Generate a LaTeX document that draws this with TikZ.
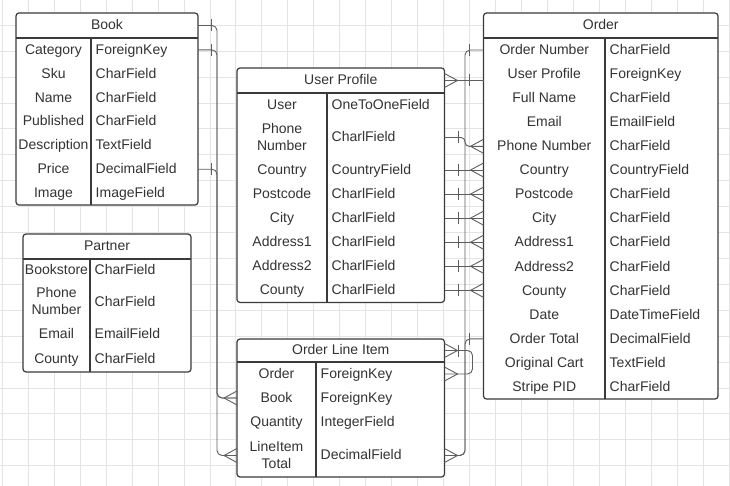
\documentclass[tikz,border=0pt]{standalone}
\usepackage{fontspec}
\setmainfont{Liberation Sans}
\usetikzlibrary{calc}
\definecolor{ink}{HTML}{333333}
\definecolor{edge}{HTML}{3A3A3A}
\definecolor{wire}{HTML}{5E5E5E}
\definecolor{gridc}{HTML}{E4E4E4}
\tikzset{
 tablebox/.style={draw=edge, line width=1.2pt, fill=white, rounded corners=3pt, inner sep=0pt, outer sep=0pt},
 rowbox/.style={inner sep=0pt, outer sep=0pt},
 keytext/.style={inner sep=0pt, align=center, text=ink, yshift=-1pt, font=\fontsize{14}{17}\selectfont},
 typetext/.style={inner sep=0pt, anchor=west, text=ink, yshift=-1pt, font=\fontsize{14}{17}\selectfont},
 sepline/.style={draw=edge, line width=1.8pt},
 divline/.style={draw=edge, line width=1.2pt},
 conn/.style={draw=wire, line width=0.9pt, rounded corners=5pt},
 wirebit/.style={draw=wire, line width=0.9pt},
 gridline/.style={draw=gridc, line width=0.8pt}
}
\newcommand\ERrow[5]{%
 \node[rowbox, minimum width={(\XR-\XL)*1pt}, minimum height={(#3-#2)*1pt}, anchor=north west] (#1) at (\XL,#2) {};
 \node[keytext] (#1-k) at ({(\XL+\XD)/2},{(#2+#3)/2}) {\strut#4\strut};
 \node[typetext] (#1-t) at ({\XD+4.5},{(#2+#3)/2}) {\strut#5};
}
\newcommand\ERtable[5]{%
 \node[tablebox, minimum width={(\XR-\XL)*1pt}, minimum height={(#4-#2)*1pt}, anchor=north west] (#1) at (\XL,#2) {};
 \node[rowbox, minimum width={(\XR-\XL)*1pt}, minimum height={(#3-#2)*1pt}, anchor=north west] (#1-h) at (\XL,#2) {};
 \node[keytext] (#1-title) at (#1-h.center) {\strut#5};
 \draw[sepline] (#1-h.south west) -- (#1-h.south east);
 \draw[divline] (\XD,#3) -- (\XD,#4);
}
\newcommand\crowL[1]{\draw[wirebit] ($(#1)+(0,-7)$) -- ($(#1)+(-13,0)$) -- ($(#1)+(0,7)$);}
\newcommand\crowR[1]{\draw[wirebit] ($(#1)+(0,-7)$) -- ($(#1)+(13,0)$) -- ($(#1)+(0,7)$);}
\newcommand\tickat[2]{\draw[wirebit] ($(#1)+(#2,-6)$) -- ($(#1)+(#2,6)$);}
\begin{document}
\begin{tikzpicture}[x=1pt,y=-1pt]
\useasboundingbox (0,0) rectangle (730,486);
\fill[white] (0,0) rectangle (730,486);
\foreach \i in {0,...,28} \draw[gridline] ({2.3+25.95*\i},0) -- ({2.3+25.95*\i},486);
\foreach \j in {1,...,18} \draw[gridline] (0,{-0.6+25.9*\j}) -- (730,{-0.6+25.9*\j});

% Book
\def\XL{16}\def\XD{91}\def\XR{198}
\ERtable{book}{13}{38}{205.02}{Book}
\ERrow{b-cat}{38}{61.86}{Category}{ForeignKey}
\ERrow{b-sku}{61.86}{85.72}{Sku}{CharField}
\ERrow{b-name}{85.72}{109.58}{Name}{CharField}
\ERrow{b-pub}{109.58}{133.44}{Published}{CharField}
\ERrow{b-desc}{133.44}{157.30}{Description}{TextField}
\ERrow{b-price}{157.30}{181.16}{Price}{DecimalField}
\ERrow{b-img}{181.16}{205.02}{Image}{ImageField}

% Partner
\def\XL{23}\def\XD{90}\def\XR{191}
\ERtable{pa}{234}{259}{372}{Partner}
\ERrow{pa-store}{259}{282}{Bookstore}{CharField}
\ERrow{pa-phone}{282}{322}{Phone\\Number}{CharField}
\ERrow{pa-email}{322}{346}{Email}{EmailField}
\ERrow{pa-county}{346}{372}{County}{CharField}

% User Profile
\def\XL{237}\def\XD{327}\def\XR{444.5}
\ERtable{up}{68}{93}{302.42}{User Profile}
\ERrow{up-user}{93}{117}{User}{OneToOneField}
\ERrow{up-phone}{117}{158}{Phone\\Number}{CharlField}
\ERrow{up-country}{158}{182.07}{Country}{CountryField}
\ERrow{up-post}{182.07}{206.14}{Postcode}{CharlField}
\ERrow{up-city}{206.14}{230.21}{City}{CharlField}
\ERrow{up-a1}{230.21}{254.28}{Address1}{CharlField}
\ERrow{up-a2}{254.28}{278.35}{Address2}{CharlField}
\ERrow{up-county}{278.35}{302.42}{County}{CharlField}

% Order Line Item
\def\XL{237}\def\XD{316}\def\XR{444.5}
\ERtable{oli}{339}{362}{477}{Order Line Item}
\ERrow{oli-order}{362}{386}{Order}{ForeignKey}
\ERrow{oli-book}{386}{410}{Book}{ForeignKey}
\ERrow{oli-qty}{410}{434}{Quantity}{IntegerField}
\ERrow{oli-total}{434}{477}{LineItem\\Total}{DecimalField}

% Order
\def\XL{483.5}\def\XD{605}\def\XR{718}
\ERtable{or}{13}{38}{399.05}{Order}
\ERrow{or-num}{38}{62.07}{Order Number}{CharField}
\ERrow{or-up}{62.07}{86.14}{User Profile}{ForeignKey}
\ERrow{or-name}{86.14}{110.21}{Full Name}{CharField}
\ERrow{or-email}{110.21}{134.28}{Email}{EmailField}
\ERrow{or-phone}{134.28}{158.35}{Phone Number}{CharField}
\ERrow{or-country}{158.35}{182.42}{Country}{CountryField}
\ERrow{or-post}{182.42}{206.49}{Postcode}{CharField}
\ERrow{or-city}{206.49}{230.56}{City}{CharField}
\ERrow{or-a1}{230.56}{254.63}{Address1}{CharField}
\ERrow{or-a2}{254.63}{278.70}{Address2}{CharField}
\ERrow{or-county}{278.70}{302.77}{County}{CharField}
\ERrow{or-date}{302.77}{326.84}{Date}{DateTimeField}
\ERrow{or-total}{326.84}{350.91}{Order Total}{DecimalField}
\ERrow{or-cart}{350.91}{374.98}{Original Cart}{TextField}
\ERrow{or-pid}{374.98}{399.05}{Stripe PID}{CharField}

% Book connectors
\draw[conn] (book-h.east) -- ++(19,0) |- (oli-book.west);
\tickat{book-h.east}{13.5}
\draw[conn] (b-cat.east) -- ++(19,0) |- (oli-book.west);
\tickat{b-cat.east}{13.5}
\draw[conn] (b-price.east) -- ++(19,0) |- (oli-total.west);
\tickat{b-price.east}{13.5}
\crowL{oli-book.west}
\crowL{oli-total.west}

% User Profile header to Order
\coordinate (uph-end) at (up-h.east -| or-num.west);
\draw[conn] (up-h.east) -- (uph-end);
\crowR{up-h.east}
\tickat{uph-end}{-14}

% Order to Order Line Item
\draw[conn] (or-num.west) -- ++(-18.5,0) |- (oli-total.east);
\tickat{or-num.west}{-14}
\draw[conn] (or-total.west) -- ++(-18.5,0) |- (oli-total.east);
\tickat{or-total.west}{-14}
\crowR{oli-total.east}

% User Profile rows to Order rows
\draw[conn, rounded corners=4pt] (up-phone.east) -- ++(20.5,0) |- (or-phone.west);
\tickat{up-phone.east}{14}
\crowL{or-phone.west}
\foreach \a in {country,post,city,a1,a2,county} {
 \coordinate (end-\a) at (up-\a.east -| or-\a.west);
 \draw[conn] (up-\a.east) -- (end-\a);
 \tickat{up-\a.east}{14}
 \crowL{end-\a}
}

% Order Line Item loop
\draw[conn] (oli-h.east) -- ++(28,0) |- (oli-order.east);
\crowR{oli-h.east}
\tickat{oli-h.east}{14}
\crowR{oli-order.east}
\end{tikzpicture}
\end{document}
